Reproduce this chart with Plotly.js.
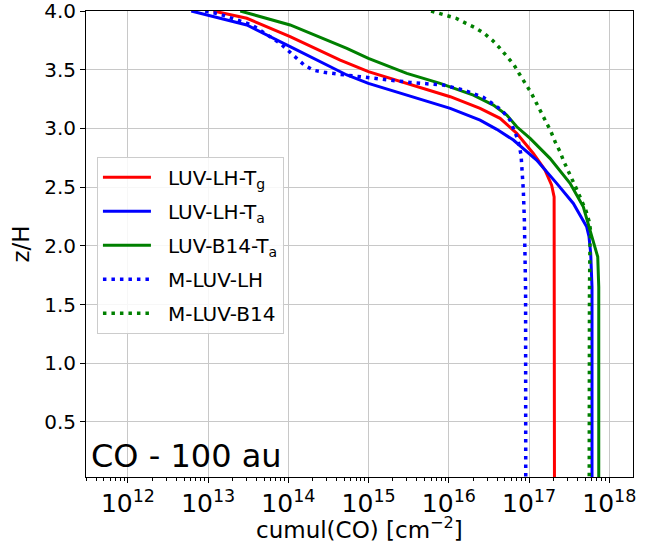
<!DOCTYPE html>
<html>
<head>
<meta charset="utf-8">
<script src="https://cdn.plot.ly/plotly-3.0.1.min.js"></script>
<style>
html, body { margin: 0; padding: 0; background: #ffffff; }
#chart { width: 653px; height: 551px; }
</style>
</head>
<body>
<div id="chart"></div>
<script>
// Series names
const seriesNames = ["LUV-LH-T<sub>g</sub>", "LUV-LH-T<sub>a</sub>", "LUV-B14-T<sub>a</sub>", "M-LUV-LH", "M-LUV-B14"];

// LUV-LH-Tg (red, solid)
const redCol = [1.16e13, 3.03e13, 1.05e14, 4.42e14, 9.93e14, 2.99e15, 1.04e16, 2.45e16, 4.35e16, 7.01e16, 1.13e17, 1.58e17, 1.91e17, 2.05e17, 2.07e17, 2.07e17];
const redZ   = [4.0, 3.938, 3.781, 3.582, 3.483, 3.384, 3.270, 3.171, 3.086, 2.958, 2.787, 2.645, 2.517, 2.417, 1.0, 0.031];

// LUV-LH-Ta (blue, solid)
const blueCol = [6.15e12, 3.03e13, 1.05e14, 5.35e14, 9.93e14, 2.99e15, 1.04e16, 2.45e16, 3.95e16, 6.37e16, 1.24e17, 2.21e17, 3.56e17, 5.22e17, 5.58e17, 5.86e17, 6.08e17, 6.08e17];
const blueZ   = [4.0, 3.881, 3.696, 3.455, 3.384, 3.284, 3.171, 3.071, 2.992, 2.901, 2.730, 2.532, 2.361, 2.162, 2.077, 1.935, 1.650, 0.031];

// LUV-B14-Ta (green, solid)
const greenCol = [2.51e13, 1.05e14, 5.35e14, 9.93e14, 2.99e15, 7.78e15, 2.02e16, 3.59e16, 5.27e16, 7.02e16, 1.03e17, 1.82e17, 3.24e17, 4.74e17, 5.74e17, 6.63e17, 7.17e17, 7.38e17, 7.38e17];
const greenZ   = [4.0, 3.881, 3.682, 3.597, 3.469, 3.384, 3.284, 3.199, 3.114, 3.014, 2.915, 2.745, 2.532, 2.332, 2.134, 1.991, 1.906, 1.650, 0.031];

// M-LUV-LH (blue, dotted)
const mBlueCol = [9.18e12, 1.41e13, 3.51e13, 5.93e13, 7.89e13, 9.73e13, 1.24e14, 1.57e14, 2.05e14, 2.79e14, 5.09e14, 1.26e15, 3.29e15, 8.55e15, 1.52e16, 2.69e16, 4.56e16, 5.78e16, 7.28e16, 7.94e16, 8.28e16, 8.47e16, 8.73e16, 8.91e16, 9.04e16, 9.08e16];
const mBlueZ   = [4.0, 3.972, 3.881, 3.781, 3.725, 3.668, 3.605, 3.540, 3.495, 3.478, 3.455, 3.426, 3.392, 3.369, 3.327, 3.265, 3.156, 3.071, 2.901, 2.773, 2.628, 2.475, 2.219, 1.938, 1.622, 0.031];

// M-LUV-B14 (green, dotted)
const mGreenCol = [6.0e15, 8.97e15, 1.23e16, 1.64e16, 2.12e16, 2.75e16, 3.49e16, 4.35e16, 5.36e16, 6.50e16, 7.57e16, 8.99e16, 1.06e17, 1.22e17, 1.41e17, 1.63e17, 1.86e17, 2.11e17, 2.43e17, 2.72e17, 3.12e17, 3.56e17, 3.99e17, 4.53e17, 5.12e17, 5.62e17, 5.86e17, 5.74e17, 5.66e17, 5.62e17];
const mGreenZ   = [4.0, 3.966, 3.938, 3.895, 3.858, 3.810, 3.750, 3.682, 3.611, 3.540, 3.463, 3.384, 3.304, 3.222, 3.142, 3.057, 2.977, 2.886, 2.801, 2.716, 2.630, 2.554, 2.469, 2.383, 2.298, 2.204, 2.119, 2.006, 1.622, 0.031];

const yTickVals = [0.5, 1.0, 1.5, 2.0, 2.5, 3.0, 3.5, 4.0];
const yTickText = ["0.5", "1.0", "1.5", "2.0", "2.5", "3.0", "3.5", "4.0"];
const panelLabel = "CO - 100 au";
const xTitle = "cumul(CO) [cm<sup>−2</sup>]";
const yTitle = "z/H";

const FONT = "DejaVu Sans, sans-serif";

function tr(name, x, y, color, dash, width, grp) {
  return { type: "scatter", mode: "lines", name: name, x: x, y: y, legendgroup: grp,
    line: { color: color, width: width, dash: dash } };
}

const data = [
  tr(seriesNames[0], redCol, redZ, "#ff0000", "solid", 3, "g1"),
  tr(seriesNames[1], blueCol, blueZ, "#0000ff", "solid", 3, "g2"),
  tr(seriesNames[2], greenCol, greenZ, "#008000", "solid", 3, "g3"),
  tr(seriesNames[3], mBlueCol, mBlueZ, "#0000ff", "3.5px,5px", 3.5, "g4"),
  tr(seriesNames[4], mGreenCol, mGreenZ, "#008000", "3.5px,5px", 3.5, "g5")
];

const layout = {
  width: 653, height: 551,
  margin: { l: 86, r: 20, t: 11, b: 74 },
  paper_bgcolor: "#ffffff", plot_bgcolor: "#ffffff",
  font: { family: FONT, size: 20, color: "#000000" },
  showlegend: true,
  legend: {
    x: 0.02, y: 0.687, xanchor: "left", yanchor: "top",
    bgcolor: "rgba(255,255,255,0.85)", bordercolor: "#cccccc", borderwidth: 1,
    itemwidth: 60, tracegroupgap: 5,
    font: { family: FONT, size: 20, color: "#000000" }
  },
  xaxis: {
    type: "log", range: [11.477, 18.295],
    dtick: 1, exponentformat: "power",
    showgrid: true, gridcolor: "#c8c8c8", gridwidth: 1,
    showline: true, linecolor: "#000000", linewidth: 1, mirror: true,
    ticks: "outside", ticklen: 5, tickcolor: "#000000",
    minor: { ticks: "outside", ticklen: 3, tickcolor: "#000000", showgrid: false },
    zeroline: false, ticklabeloverflow: "allow",
    tickfont: { family: FONT, size: 20 }
  },
  yaxis: {
    range: [0.031, 4.0],
    tickvals: yTickVals, ticktext: yTickText,
    showgrid: true, gridcolor: "#c8c8c8", gridwidth: 1,
    showline: true, linecolor: "#000000", linewidth: 1, mirror: true,
    ticks: "outside", ticklen: 5, tickcolor: "#000000",
    zeroline: false, ticklabeloverflow: "allow",
    tickfont: { family: FONT, size: 20 },
    title: { text: yTitle, font: { family: FONT, size: 23 }, standoff: 8 }
  },
  annotations: [{
    text: panelLabel, xref: "paper", yref: "paper",
    x: 0.005, y: 0.0, xanchor: "left", yanchor: "bottom",
    showarrow: false, font: { family: FONT, size: 32, color: "#000000" }
  }, {
    text: xTitle, xref: "paper", yref: "paper",
    x: 0.5, y: 0.0, xanchor: "center", yanchor: "top", yshift: -34,
    showarrow: false, font: { family: FONT, size: 23, color: "#000000" }
  }]
};

Plotly.newPlot("chart", data, layout, { staticPlot: true, displayModeBar: false }).then(function () {
  document.querySelectorAll(".legendlines path").forEach(function (p) {
    p.setAttribute("d", "M5,0h48");
  });
});
</script>
</body>
</html>
